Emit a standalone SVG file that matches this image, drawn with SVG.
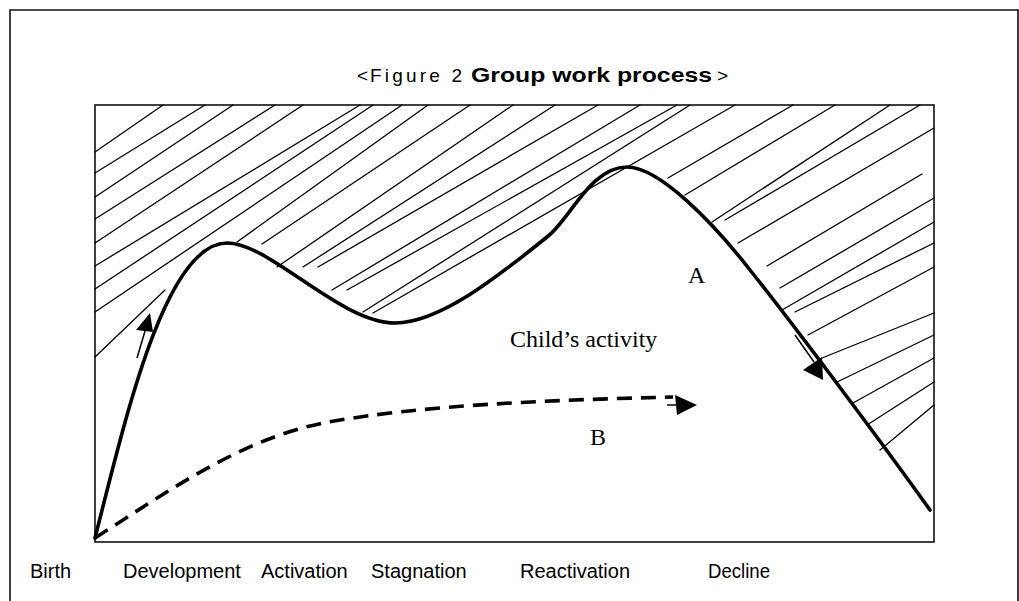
<svg xmlns="http://www.w3.org/2000/svg" width="1019" height="601" viewBox="0 0 1019 601">
<style>
.frame{fill:none;stroke:#111;stroke-width:1.6}
.hatch{stroke:#000;stroke-width:1.3;fill:none;stroke-linecap:round}
.curveA{fill:none;stroke:#000;stroke-width:3.6;stroke-linecap:round;stroke-linejoin:round}
.curveB{fill:none;stroke:#000;stroke-width:3.6;stroke-dasharray:15 9}
.thin{stroke:#000;stroke-width:1.5;fill:none}
.head{fill:#000;stroke:none}
.sans{font-family:"Liberation Sans",Arial,sans-serif;fill:#000}
.serif{font-family:"Liberation Serif","Times New Roman",serif;fill:#000;font-size:24px}
</style>
<rect width="1019" height="601" fill="#fff"/>
<g id="outer-frame">
<path class="frame" d="M10,601 V10 H1018 V601"/>
</g>
<g id="title">
<text class="sans" x="357" y="82" font-size="19">&lt;</text>
<text class="sans" x="370" y="82" font-size="19" textLength="92" lengthAdjust="spacing">Figure 2</text>
<text class="sans" x="471" y="82" font-size="21" font-weight="bold" textLength="241" lengthAdjust="spacingAndGlyphs">Group work process</text>
<text class="sans" x="717" y="82" font-size="19">&gt;</text>
</g>
<g id="plot-box">
<rect class="frame" x="95" y="105" width="839" height="437"/>
</g>
<g id="hatching">
<path class="hatch" d="M95,152L163,105M95,173L205,105M95,197L233,105M95,219L275,105M95,243L303,105M95,266L360,105M95,289L373,105M95,312L402,105M95,357L165,290"/>
<path class="hatch" d="M237,242L428,105M262,244L470,105M277,267L513,105M303,267L555,105M318,267L598,105M332,290L640,105M347,290L677,105M363,312L690,105M373,313L735,105"/>
<path class="hatch" d="M668,178L793,105M685,195L835,105M712,222L890,105M725,220L920,105M738,243L934,128M767,266L922,174M780,288L934,198M782,310L934,222M795,312L934,243M808,335L934,267M822,358L934,313M837,382L934,335M853,403L934,358M867,425L934,382M880,450L934,405"/>
</g>
<g id="connectors">
<g id="curve-A">
<path class="curveA" d="M95,538 C125,420 165,243 227,243 C270,243 340,323 395,323 C440,323 500,275 547,237 C570,220 590,167 627,167 C660,167 715,225 750,270 C790,320 880,440 930,510"/>
<path class="thin" d="M137,358 L145,331"/>
<polygon class="head" points="150,313 136,330 153,332"/>
<path class="thin" d="M795,335 L814,362"/>
<polygon class="head" points="803,370 822,357 823,380"/>
</g>
<g id="curve-B">
<path class="curveB" d="M95,538 C170,490 240,440 323,423 C420,405 550,400 673,397"/>
<path class="thin" d="M667,405 L677,405"/>
<polygon class="head" points="675,395 697,405 677,415"/>
</g>
</g>
<g id="curve-labels">
<text class="serif" x="688" y="283">A</text>
<text class="serif" x="510" y="347">Child’s activity</text>
<text class="serif" x="590" y="445">B</text>
</g>
<g id="stage-labels" class="sans" font-size="20">
<text x="30" y="578">Birth</text>
<text x="123" y="578">Development</text>
<text x="261" y="578">Activation</text>
<text x="371" y="578">Stagnation</text>
<text x="520" y="578">Reactivation</text>
<text x="708" y="578" textLength="62" lengthAdjust="spacingAndGlyphs">Decline</text>
</g>
</svg>
